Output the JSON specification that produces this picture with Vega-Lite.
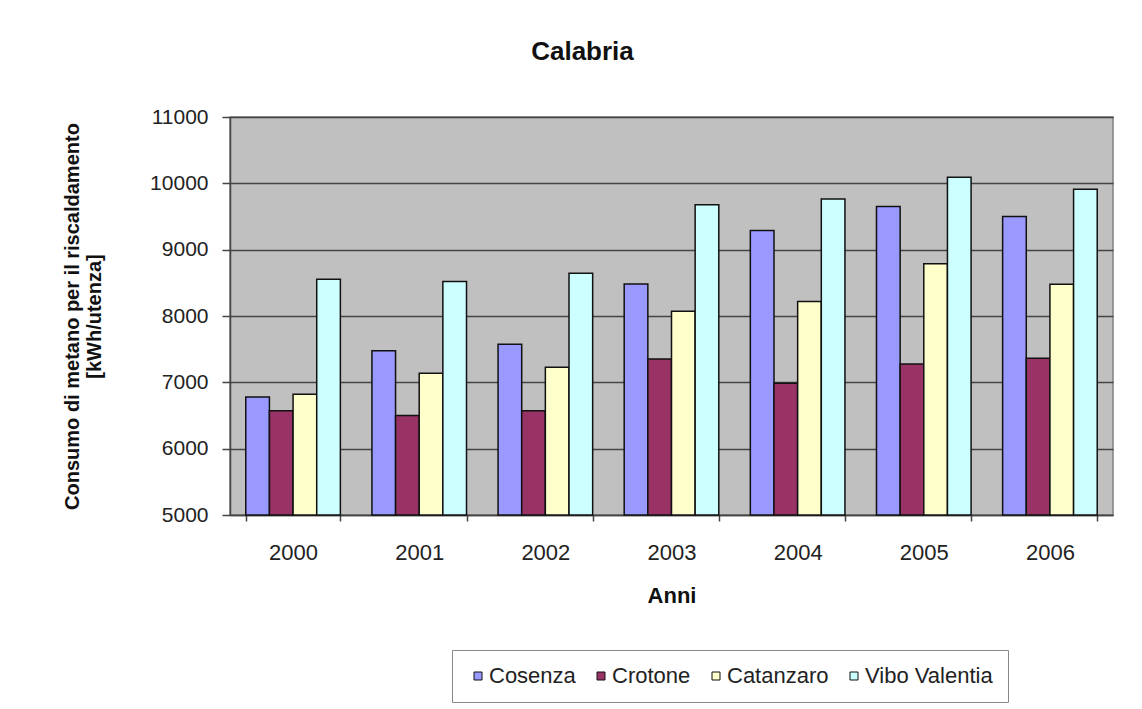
{
  "$schema": "https://vega.github.io/schema/vega-lite/v6.json",
  "width": 883,
  "height": 398,
  "autosize": "none",
  "padding": {"left": 230, "top": 117, "right": 29, "bottom": 194},
  "background": "white",
  "title": {
    "text": "Calabria",
    "font": "Liberation Sans",
    "fontSize": 26,
    "fontWeight": "bold",
    "color": "#111111",
    "anchor": "middle",
    "dx": -89,
    "baseline": "alphabetic",
    "offset": 20
  },
  "data": {
    "values": [
      {"anno": "2000", "provincia": "Cosenza", "consumo": 6780},
      {"anno": "2000", "provincia": "Crotone", "consumo": 6570},
      {"anno": "2000", "provincia": "Catanzaro", "consumo": 6820},
      {"anno": "2000", "provincia": "Vibo Valentia", "consumo": 8555},
      {"anno": "2001", "provincia": "Cosenza", "consumo": 7478},
      {"anno": "2001", "provincia": "Crotone", "consumo": 6500},
      {"anno": "2001", "provincia": "Catanzaro", "consumo": 7138},
      {"anno": "2001", "provincia": "Vibo Valentia", "consumo": 8520},
      {"anno": "2002", "provincia": "Cosenza", "consumo": 7573},
      {"anno": "2002", "provincia": "Crotone", "consumo": 6570},
      {"anno": "2002", "provincia": "Catanzaro", "consumo": 7227},
      {"anno": "2002", "provincia": "Vibo Valentia", "consumo": 8645},
      {"anno": "2003", "provincia": "Cosenza", "consumo": 8484},
      {"anno": "2003", "provincia": "Crotone", "consumo": 7353},
      {"anno": "2003", "provincia": "Catanzaro", "consumo": 8072},
      {"anno": "2003", "provincia": "Vibo Valentia", "consumo": 9676},
      {"anno": "2004", "provincia": "Cosenza", "consumo": 9290},
      {"anno": "2004", "provincia": "Crotone", "consumo": 6986},
      {"anno": "2004", "provincia": "Catanzaro", "consumo": 8220},
      {"anno": "2004", "provincia": "Vibo Valentia", "consumo": 9762},
      {"anno": "2005", "provincia": "Cosenza", "consumo": 9650},
      {"anno": "2005", "provincia": "Crotone", "consumo": 7278},
      {"anno": "2005", "provincia": "Catanzaro", "consumo": 8786},
      {"anno": "2005", "provincia": "Vibo Valentia", "consumo": 10090},
      {"anno": "2006", "provincia": "Cosenza", "consumo": 9500},
      {"anno": "2006", "provincia": "Crotone", "consumo": 7363},
      {"anno": "2006", "provincia": "Catanzaro", "consumo": 8480},
      {"anno": "2006", "provincia": "Vibo Valentia", "consumo": 9910}
    ]
  },
  "mark": {"type": "bar", "stroke": "#111111", "strokeWidth": 1.5},
  "encoding": {
    "x": {
      "field": "anno",
      "type": "nominal",
      "scale": {"paddingInner": 0.25, "paddingOuter": 0.125},
      "axis": {
        "title": "Anni",
        "labelAngle": 0,
        "labelFontSize": 22,
        "tickBand": "extent",
        "tickSize": 6,
        "labelPadding": 21,
        "titlePadding": 22,
        "titleFontSize": 22
      }
    },
    "xOffset": {
      "field": "provincia",
      "type": "nominal",
      "sort": ["Cosenza", "Crotone", "Catanzaro", "Vibo Valentia"]
    },
    "y": {
      "field": "consumo",
      "type": "quantitative",
      "scale": {"domain": [5000, 11000], "nice": false, "zero": false},
      "axis": {
        "title": ["Consumo di metano per il riscaldamento", "[kWh/utenza]"],
        "values": [5000, 6000, 7000, 8000, 9000, 10000, 11000],
        "format": "d",
        "tickSize": 8,
        "labelPadding": 14,
        "titlePadding": 45,
        "titleFontSize": 20,
        "grid": true
      }
    },
    "y2": {"datum": 5000},
    "color": {
      "field": "provincia",
      "type": "nominal",
      "sort": ["Cosenza", "Crotone", "Catanzaro", "Vibo Valentia"],
      "scale": {
        "domain": ["Cosenza", "Crotone", "Catanzaro", "Vibo Valentia"],
        "range": ["#9999FF", "#993366", "#FFFFCC", "#CCFFFF"]
      },
      "legend": {
        "title": null,
        "orient": "none",
        "legendX": 222,
        "legendY": 533,
        "direction": "horizontal",
        "symbolType": "square",
        "symbolSize": 64,
        "symbolStrokeColor": "#111111",
        "symbolStrokeWidth": 1,
        "labelFontSize": 22,
        "labelFont": "Liberation Sans",
        "labelColor": "#222222",
        "columnPadding": 14,
        "symbolOffset": 0,
        "labelOffset": 0,
        "padding": 15,
        "strokeColor": "#888888",
        "fillColor": "white"
      }
    }
  },
  "config": {
    "view": {"fill": "#C0C0C0", "stroke": "#808080", "strokeWidth": 1.5},
    "axis": {
      "labelFont": "Liberation Sans",
      "labelFontSize": 21,
      "labelColor": "#222222",
      "titleFont": "Liberation Sans",
      "titleFontSize": 21,
      "titleFontWeight": "bold",
      "titleColor": "#111111",
      "domainColor": "#444444",
      "domainWidth": 1.5,
      "tickColor": "#444444",
      "tickWidth": 1.5,
      "gridColor": "#444444",
      "gridWidth": 1.5
    }
  }
}
